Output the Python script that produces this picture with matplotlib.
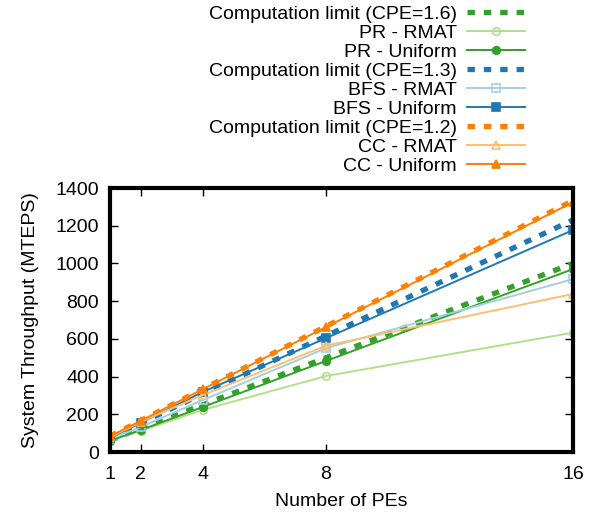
import matplotlib
matplotlib.use("Agg")
import matplotlib.pyplot as plt

plt.rcParams['font.family'] = ['Liberation Sans', 'DejaVu Sans']

pes = [1, 2, 4, 8, 16]

# computation limits: 100 MHz * PEs / CPE
limit_pr = [62.5, 125, 250, 500, 1000]
limit_bfs = [76.9, 153.8, 307.7, 615.4, 1230.8]
limit_cc = [83.3, 166.7, 333.3, 666.7, 1333.3]

pr_rmat = [60, 113, 223, 403, 633]
pr_uniform = [60, 117, 238, 483, 970]
bfs_rmat = [68, 133, 275, 551, 917]
bfs_uniform = [75, 155, 318, 604, 1177]
cc_rmat = [78, 160, 302, 564, 838]
cc_uniform = [83, 166, 333, 663, 1325]

c_green, c_lgreen = '#33a02c', '#b2df8a'
c_blue, c_lblue = '#1f78b4', '#a6cee3'
c_orange, c_lorange = '#ff7f00', '#fdbf6f'

fs = 14

fig = plt.figure(figsize=(6.02, 5.13), dpi=100)
ax = fig.add_axes([0.1827, 0.1189, 0.7691, 0.5146])

dot = dict(lw=3.8, linestyle=(0, (1.4, 1.7)), dash_capstyle='butt')
line = dict(lw=1.4, ms=5.5, markeredgewidth=1.2)

ax.plot(pes, limit_pr, color=c_green, label='Computation limit (CPE=1.6)', **dot)
ax.plot(pes, pr_rmat, color=c_lgreen, marker='o', mfc='none', label='PR - RMAT', **line)
ax.plot(pes, pr_uniform, color=c_green, marker='o', label='PR - Uniform', **line)
ax.plot(pes, limit_bfs, color=c_blue, label='Computation limit (CPE=1.3)', **dot)
ax.plot(pes, bfs_rmat, color=c_lblue, marker='s', mfc='none', label='BFS - RMAT', **line)
ax.plot(pes, bfs_uniform, color=c_blue, marker='s', label='BFS - Uniform', **line)
ax.plot(pes, limit_cc, color=c_orange, label='Computation limit (CPE=1.2)', **dot)
ax.plot(pes, cc_rmat, color=c_lorange, marker='^', mfc='none', label='CC - RMAT', **line)
ax.plot(pes, cc_uniform, color=c_orange, marker='^', label='CC - Uniform', **line)

ax.set_xlim(1, 16)
ax.set_ylim(0, 1400)
ax.set_xticks(pes)
ax.set_yticks(range(0, 1401, 200))
ax.tick_params(direction='in', length=6, width=1, labelsize=fs, top=True, right=True)
ax.tick_params(axis='x', pad=10)
ax.tick_params(axis='y', pad=8)
for s in ax.spines.values():
    s.set_linewidth(3)
ax.set_xlabel('Number of PEs', fontsize=fs, labelpad=7)
ax.set_ylabel('System Throughput (MTEPS)', fontsize=fs, labelpad=12)

fig.legend(loc='upper right', bbox_to_anchor=(0.872, 0.99), frameon=False,
           markerfirst=False, fontsize=fs, handlelength=3.0, handletextpad=0.5,
           labelspacing=0.07, borderpad=0, borderaxespad=0)

fig.savefig('out.png', dpi=100)
